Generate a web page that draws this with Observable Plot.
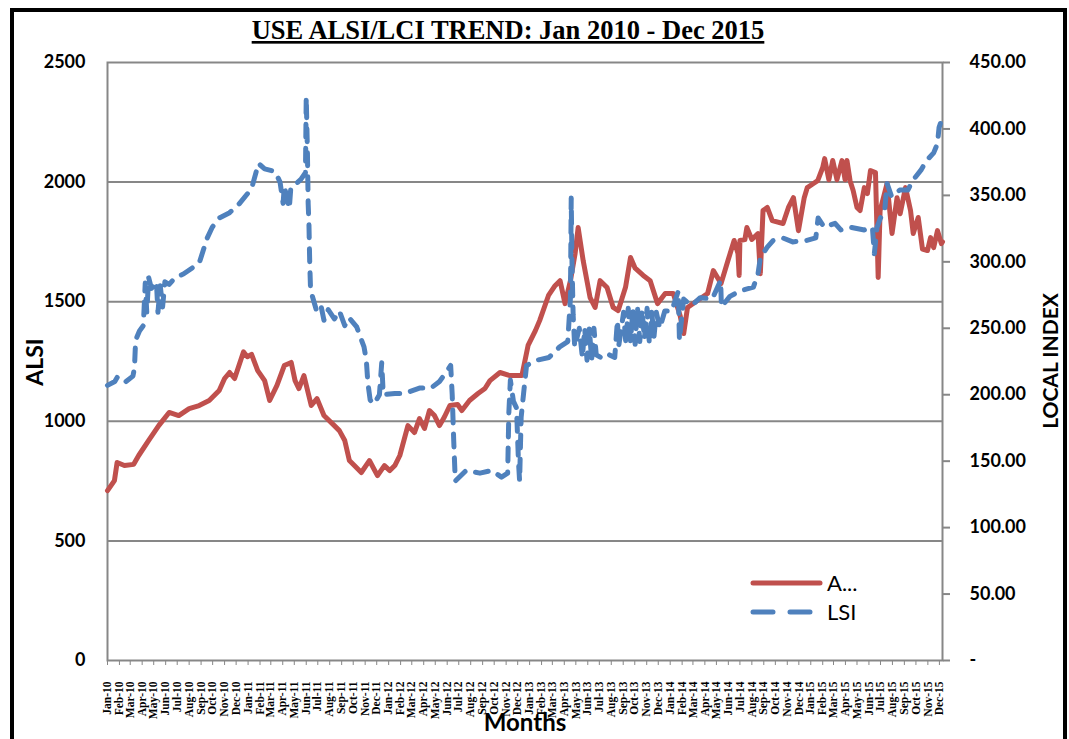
<!DOCTYPE html>
<html><head><meta charset="utf-8">
<script src="https://cdn.jsdelivr.net/npm/d3@7"></script>
<script src="https://cdn.jsdelivr.net/npm/@observablehq/plot@0.6"></script>
<style>
body{margin:0;background:#fff;}
#chart svg{display:block;}
</style></head><body><div id="chart"></div>
<script>
// ---- Data ----
const alsiDates = ["2010-01-01","2010-01-19","2010-01-26","2010-02-14","2010-03-10","2010-03-23","2010-04-18","2010-05-14","2010-06-10","2010-07-05","2010-08-01","2010-08-27","2010-09-22","2010-10-18","2010-11-01","2010-11-14","2010-11-27","2010-12-20","2010-12-30","2011-01-10","2011-01-26","2011-02-13","2011-02-26","2011-03-17","2011-04-05","2011-04-23","2011-05-03","2011-05-13","2011-05-26","2011-06-14","2011-06-29","2011-07-17","2011-08-13","2011-08-26","2011-09-09","2011-09-21","2011-10-04","2011-10-22","2011-11-12","2011-12-03","2011-12-21","2012-01-04","2012-01-17","2012-01-30","2012-02-20","2012-03-08","2012-03-21","2012-04-03","2012-04-16","2012-04-29","2012-05-12","2012-05-25","2012-06-08","2012-06-28","2012-07-09","2012-07-29","2012-08-20","2012-09-07","2012-09-20","2012-10-16","2012-11-11","2012-12-02","2012-12-12","2012-12-28","2013-01-16","2013-01-27","2013-02-19","2013-03-08","2013-03-21","2013-04-03","2013-04-17","2013-04-29","2013-05-07","2013-05-20","2013-06-07","2013-06-20","2013-07-03","2013-07-21","2013-08-06","2013-08-19","2013-09-07","2013-09-20","2013-10-02","2013-10-23","2013-11-10","2013-11-29","2013-12-19","2014-01-09","2014-01-27","2014-02-05","2014-02-15","2014-03-13","2014-04-08","2014-04-23","2014-05-13","2014-05-31","2014-06-16","2014-06-26","2014-06-29","2014-07-01","2014-07-14","2014-07-19","2014-08-01","2014-08-17","2014-08-23","2014-08-30","2014-09-10","2014-09-23","2014-10-21","2014-11-04","2014-11-17","2014-11-30","2014-12-15","2014-12-23","2015-01-08","2015-01-19","2015-02-01","2015-02-06","2015-02-17","2015-02-27","2015-03-10","2015-03-23","2015-03-31","2015-04-05","2015-04-13","2015-04-21","2015-05-01","2015-05-09","2015-05-20","2015-05-28","2015-06-05","2015-06-18","2015-06-25","2015-06-30","2015-07-18","2015-07-31","2015-08-13","2015-08-21","2015-09-04","2015-09-17","2015-09-24","2015-10-07","2015-10-18","2015-10-31","2015-11-08","2015-11-16","2015-11-26","2015-12-06","2015-12-09"];
const alsiValues = [710,752,828,815,820,857,920,982,1037,1024,1053,1066,1087,1129,1179,1204,1179,1290,1270,1280,1212,1170,1087,1150,1233,1246,1170,1137,1191,1066,1095,1024,982,961,920,836,815,786,836,773,815,794,815,857,982,953,1011,970,1045,1024,982,1019,1066,1070,1045,1087,1116,1137,1170,1204,1191,1191,1191,1317,1379,1421,1526,1567,1588,1492,1588,1700,1810,1672,1517,1476,1588,1559,1476,1463,1560,1685,1640,1610,1588,1492,1534,1534,1440,1367,1476,1505,1534,1630,1576,1672,1756,1701,1610,1756,1760,1810,1760,1785,1617,1881,1894,1839,1827,1894,1935,1797,1935,1977,1994,2006,2061,2098,2010,2090,2010,2090,2010,2090,2006,1965,1894,1881,1977,1952,2048,2040,1601,1881,1994,1785,1935,1868,1977,1881,1785,1852,1720,1714,1768,1726,1797,1743,1750];

const lsiDates = ["2010-01-01","2010-01-20","2010-01-26","2010-02-14","2010-03-08","2010-03-12","2010-03-15","2010-03-25","2010-04-04","2010-04-09","2010-04-13","2010-04-18","2010-04-25","2010-05-08","2010-05-12","2010-05-18","2010-05-24","2010-05-30","2010-06-10","2010-06-25","2010-07-18","2010-08-27","2010-09-17","2010-09-30","2010-10-18","2010-11-14","2010-12-10","2011-01-10","2011-01-28","2011-02-13","2011-03-12","2011-03-25","2011-04-02","2011-04-05","2011-04-18","2011-04-22","2011-05-03","2011-05-18","2011-05-30","2011-06-01","2011-06-04","2011-06-06","2011-06-08","2011-06-10","2011-06-12","2011-06-16","2011-06-29","2011-07-10","2011-07-17","2011-07-28","2011-08-13","2011-08-26","2011-09-09","2011-09-20","2011-10-10","2011-10-29","2011-11-04","2011-11-08","2011-11-14","2011-11-24","2011-12-08","2011-12-14","2011-12-18","2012-01-17","2012-02-12","2012-03-21","2012-04-20","2012-05-12","2012-06-01","2012-06-10","2012-06-14","2012-06-18","2012-06-22","2012-07-20","2012-08-25","2012-09-25","2012-10-20","2012-11-05","2012-11-08","2012-11-12","2012-11-20","2012-11-28","2012-12-03","2012-12-06","2012-12-10","2012-12-16","2012-12-24","2013-01-20","2013-02-20","2013-03-20","2013-04-10","2013-04-17","2013-04-19","2013-04-21","2013-04-24","2013-04-28","2013-05-10","2013-05-18","2013-05-24","2013-05-30","2013-06-05","2013-06-11","2013-06-17","2013-06-23","2013-07-05","2013-07-20","2013-08-10","2013-08-17","2013-08-20","2013-09-02","2013-09-08","2013-09-14","2013-09-20","2013-09-26","2013-10-02","2013-10-08","2013-10-14","2013-10-20","2013-10-26","2013-11-02","2013-11-08","2013-11-14","2013-11-20","2013-11-26","2013-12-05","2013-12-18","2014-01-05","2014-01-22","2014-01-25","2014-02-05","2014-02-25","2014-03-20","2014-04-20","2014-05-12","2014-05-14","2014-06-05","2014-07-01","2014-08-05","2014-08-17","2014-08-23","2014-09-10","2014-09-25","2014-10-20","2014-11-15","2014-12-20","2015-01-14","2015-01-20","2015-02-05","2015-03-05","2015-03-20","2015-04-15","2015-05-20","2015-06-10","2015-06-15","2015-06-22","2015-07-01","2015-07-12","2015-07-18","2015-07-30","2015-08-20","2015-09-10","2015-09-22","2015-10-14","2015-10-28","2015-11-16","2015-11-26","2015-11-30","2015-12-09"];
const lsiValues = [207,210,213,209,214,220,241,248,252,284,262,288,280,285,262,282,266,285,283,288,291,299,318,326,333,337,344,355,374,370,368,360,344,357,340,356,358,362,367,424,384,344,329,300,281,275,262,266,256,264,257,263,252,258,251,236,226,209,196,193,200,224,200,201,201,205,205,210,218,222,200,165,135,143,141,143,138,141,186,211,195,190,150,135,183,200,222,226,228,236,240,273,348,300,260,236,250,228,250,226,250,226,250,230,228,231,228,256,236,262,238,265,240,264,238,266,240,264,242,265,238,262,244,262,250,263,263,278,241,272,267,273,272,286,266,274,278,281,291,303,311,316,318,315,316,318,333,326,329,324,326,324,326,306,326,333,339,359,349,354,354,361,369,376,382,389,401,409];

const seriesNames = ["A...", "LSI"];
const leftTicks = [0, 500, 1000, 1500, 2000, 2500];
const rightTicks = [0, 50, 100, 150, 200, 250, 300, 350, 400, 450];
const titleText = "USE ALSI/LCI TREND: Jan 2010 - Dec 2015";
const leftLabel = "ALSI", rightLabel = "LOCAL INDEX", xLabel = "Months";

// ---- Build tables ----
const parse = d3.utcParse("%Y-%m-%d");
const ratio = 2500 / 450; // secondary axis mapped onto primary
const alsi = alsiDates.map((d, i) => ({date: parse(d), value: alsiValues[i]}));
const lsi = lsiDates.map((d, i) => ({date: parse(d), value: lsiValues[i] * ratio}));
const months = d3.utcMonth.range(parse("2010-01-01"), parse("2015-12-02"));
const fmtMonth = d3.utcFormat("%b-%y");

const W = 1069, H = 739;
const RED = "#C0504D", BLUE = "#4F81BD", GRID = "#878787";

const chart = Plot.plot({
  width: W, height: H,
  marginLeft: 107, marginRight: 127, marginTop: 62, marginBottom: 79,
  style: {background: "transparent", overflow: "visible"},
  x: {type: "utc", domain: [parse("2010-01-01"), parse("2015-12-09")]},
  y: {domain: [0, 2500]},
  marks: [
    Plot.gridY([500, 1000, 1500, 2000], {stroke: GRID, strokeOpacity: 1, strokeWidth: 2}),
    Plot.frame({stroke: GRID, strokeWidth: 2}),
    Plot.axisY(leftTicks, {anchor: "left", tickSize: 0, tickPadding: 22, fontSize: 18, fontWeight: "bold", fontFamily: "Lato", fill: "#000", label: null, tickFormat: d => String(d)}),
    Plot.axisY(rightTicks.map(v => v * ratio), {anchor: "right", tickSize: 7, tickPadding: 20, stroke: GRID, strokeWidth: 2, fontSize: 18, fontWeight: "bold", fontFamily: "Lato", fill: "#000", label: null,
      tickFormat: v => { const r = Math.round(v / ratio); return r === 0 ? "-" : r.toFixed(2); }}),
    Plot.axisX(months, {anchor: "bottom", tickSize: 5, tickPadding: 16, tickRotate: -90, stroke: GRID, fontSize: 11.5, fontWeight: "bold", fontFamily: "Liberation Serif", fill: "#000", tickFormat: fmtMonth, label: null}),
    Plot.line(alsi, {x: "date", y: "value", stroke: RED, strokeWidth: 5, strokeLinejoin: "round", strokeLinecap: "round"}),
    Plot.line(lsi, {x: "date", y: "value", stroke: BLUE, strokeWidth: 5, strokeDasharray: "13,11", strokeLinejoin: "round", strokeLinecap: "round"})
  ]
});
document.getElementById("chart").appendChild(chart);

// ---- Decorations: border, titles, legend ----
const svg = d3.select(chart);
svg.append("rect").attr("x", 12).attr("y", 10).attr("width", 1053).attr("height", 760)
  .attr("fill", "none").attr("stroke", "#000").attr("stroke-width", 4);
svg.append("text").attr("x", 508).attr("y", 39).attr("text-anchor", "middle")
  .attr("font-family", "Liberation Serif").attr("font-weight", "bold").attr("font-size", 26.5)
  .attr("text-decoration", "underline").text(titleText);
svg.append("text").attr("transform", "translate(43,362) rotate(-90)").attr("text-anchor", "middle")
  .attr("font-family", "Lato").attr("font-weight", "bold").attr("font-size", 23).text(leftLabel);
svg.append("text").attr("transform", "translate(1058,361) rotate(-90)").attr("text-anchor", "middle")
  .attr("font-family", "Lato").attr("font-weight", "bold").attr("font-size", 21).text(rightLabel);
svg.append("text").attr("x", 525).attr("y", 731).attr("text-anchor", "middle")
  .attr("font-family", "Lato").attr("font-weight", "bold").attr("font-size", 24).text(xLabel);

const legend = svg.append("g");
[[RED, null, 583], [BLUE, "20,17", 612]].forEach(([c, dash, y], i) => {
  legend.append("line").attr("x1", 753).attr("x2", 820).attr("y1", y).attr("y2", y)
    .attr("stroke", c).attr("stroke-width", 5).attr("stroke-linecap", "round")
    .attr("stroke-dasharray", dash);
  legend.append("text").attr("x", 827).attr("y", y).attr("dy", "0.35em").attr("text-anchor", "start")
    .attr("font-family", "Lato").attr("font-size", 22).text(seriesNames[i]);
});
</script></body></html>
